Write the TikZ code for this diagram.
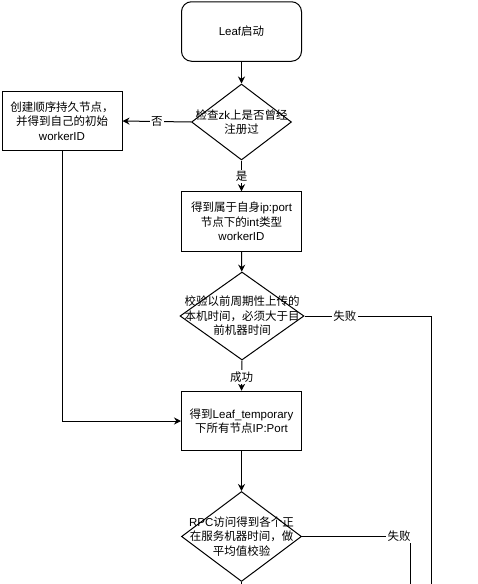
\documentclass[tikz,border=0pt]{standalone}
\usepackage{fontspec}
\setmainfont{Liberation Sans}
\newfontfamily\cjk{Noto Sans CJK SC}
\newcommand\zh[1]{{\cjk #1}}
\usetikzlibrary{shapes.geometric,arrows.meta}
\begin{document}
\begin{tikzpicture}[x=1pt,y=-1pt,
  every node/.style={font=\fontsize{11.5}{14.5}\selectfont},
  procbox/.style={draw,line width=1pt,minimum width=120,minimum height=59.5,align=center,inner sep=0},
  startbox/.style={procbox,rounded corners=10pt},
  dia/.style={draw,diamond,line width=1pt,inner sep=0,aspect=1},
  txt/.style={align=center,inner sep=0},
  lbl/.style={fill=white,inner sep=1.5pt},
  conn/.style={line width=1pt},
  arr/.style={conn,-{Stealth[length=7pt,width=7pt]}}]
\useasboundingbox[fill=white] (0,0) rectangle (478,584);
% nodes
\node[startbox] (start) at (241.5,31.5) {Leaf\zh{启动}};
\node[dia,minimum width=100,minimum height=76] (d1) at (241.5,122) {};
\node[txt] (t1) at (d1) {\zh{检查}zk\zh{上是否曾经}\\\zh{注册过}};
\node[procbox,minimum height=58.5] (left) at (62,121) {\zh{创建顺序持久节点，}\\\zh{并得到自己的初始}\\workerID};
\node[procbox] (b2) at (241.5,221.5) {\zh{得到属于自身}ip:port\\\zh{节点下的}int\zh{类型}\\workerID};
\node[dia,minimum width=124,minimum height=88] (d2) at (242,316) {};
\node[txt] (t2) at (d2) {\zh{校验以前周期性上传的}\\\zh{本机时间，必须大于目}\\\zh{前机器时间}};
\node[procbox] (b3) at (241.5,421) {\zh{得到}Leaf\_temporary\\\zh{下所有节点}IP:Port};
\node[dia,minimum width=120,minimum height=90] (d3) at (241.5,536.5) {};
\node[txt] (t3) at (d3) {RPC\zh{访问得到各个正}\\\zh{在服务机器时间，做}\\\zh{平均值校验}};
\coordinate (f1) at (431,584);
\coordinate (f2) at (410,584);
\coordinate (f3) at (241.5,584);
% connectors
\draw[arr] (start) -- (d1);
\draw[arr] (d1.west) -- node[lbl,pos=0.5]{\zh{否}} (left.east);
\draw[arr] (d1.south) -- node[lbl,pos=0.52]{\zh{是}} (b2.north);
\draw[arr] (b2) -- (d2);
\draw[conn] (d2.east) -- node[lbl,pos=0.32]{\zh{失败}} (d2.east -| f1) -- (f1);
\draw[arr] (d2.south) -- node[lbl,pos=0.55]{\zh{成功}} (b3.north);
\draw[arr] (left.south) |- (b3.west);
\draw[arr] (b3) -- (d3);
\draw[conn] (d3.east) -- node[lbl,pos=0.9]{\zh{失败}} (d3.east -| f2) -- (f2);
\draw[conn] (d3.south) -- (f3);
\end{tikzpicture}
\end{document}
